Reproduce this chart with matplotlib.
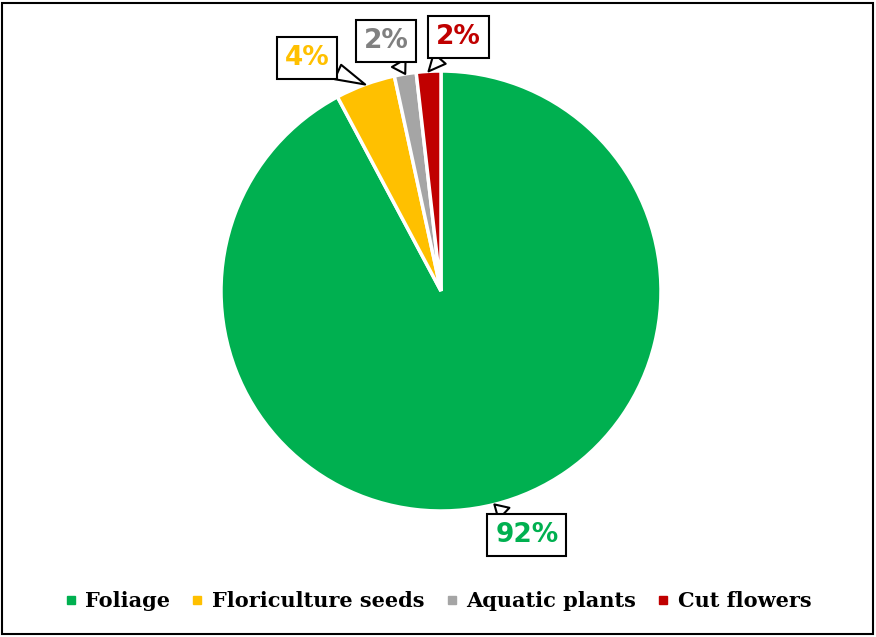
import numpy as np
import matplotlib.pyplot as plt
from matplotlib.lines import Line2D
from matplotlib.patches import Rectangle

categories = ['Foliage', 'Floriculture seeds', 'Aquatic plants', 'Cut flowers']
shares = [92.2, 4.4, 1.6, 1.8]
colors = ['#00B050', '#FFC000', '#A5A5A5', '#C00000']
label_colors = ['#00B050', '#FFC000', '#808080', '#C00000']
# where each callout box sits (data units, pie radius = 1)
label_pos = [(0.39, -1.11), (-0.61, 1.06), (-0.25, 1.135), (0.08, 1.155)]


def main():
    fig = plt.figure(figsize=(8.76, 6.37), dpi=100)
    W, H = 876, 637
    cx, cy, r = 441, 291, 220
    half = 1.25 * r
    ax = fig.add_axes([(cx - half) / W, (H - cy - half) / H, 2 * half / W, 2 * half / H])

    wedges, _ = ax.pie(shares, colors=colors, startangle=90, counterclock=False,
                       wedgeprops=dict(edgecolor='white', linewidth=2.5))
    ax.set_xlim(-1.25, 1.25)
    ax.set_ylim(-1.25, 1.25)
    ax.set_aspect('equal')

    for w, val, col, pos in zip(wedges, shares, label_colors, label_pos):
        mid = np.deg2rad((w.theta1 + w.theta2) / 2)
        tip = (np.cos(mid), np.sin(mid))
        ax.annotate('%.0f%%' % val, xy=tip, xytext=pos, ha='center', va='center',
                    fontsize=19, fontweight='bold', color=col, family='DejaVu Sans',
                    bbox=dict(boxstyle='square,pad=0.3', fc='white', ec='black', lw=1.5),
                    arrowprops=dict(arrowstyle='wedge,tail_width=0.6', fc='white', ec='black',
                                    lw=1.5, shrinkA=0, shrinkB=0))

    handles = [Line2D([], [], ls='none', marker='s', markersize=6, color=c) for c in colors]
    fig.legend(handles, categories, loc='center', bbox_to_anchor=(0.5, (H - 601) / H),
               ncol=4, frameon=False, handlelength=0.6, handletextpad=0.4, columnspacing=1.0,
               prop=dict(family='DejaVu Serif', weight='bold', size=15))

    fig.patches.append(Rectangle((2 / W, 3 / H), 871 / W, 631 / H, transform=fig.transFigure,
                                 fill=False, ec='black', lw=1.5))
    fig.savefig('out.png', dpi=100)


if __name__ == '__main__':
    main()
